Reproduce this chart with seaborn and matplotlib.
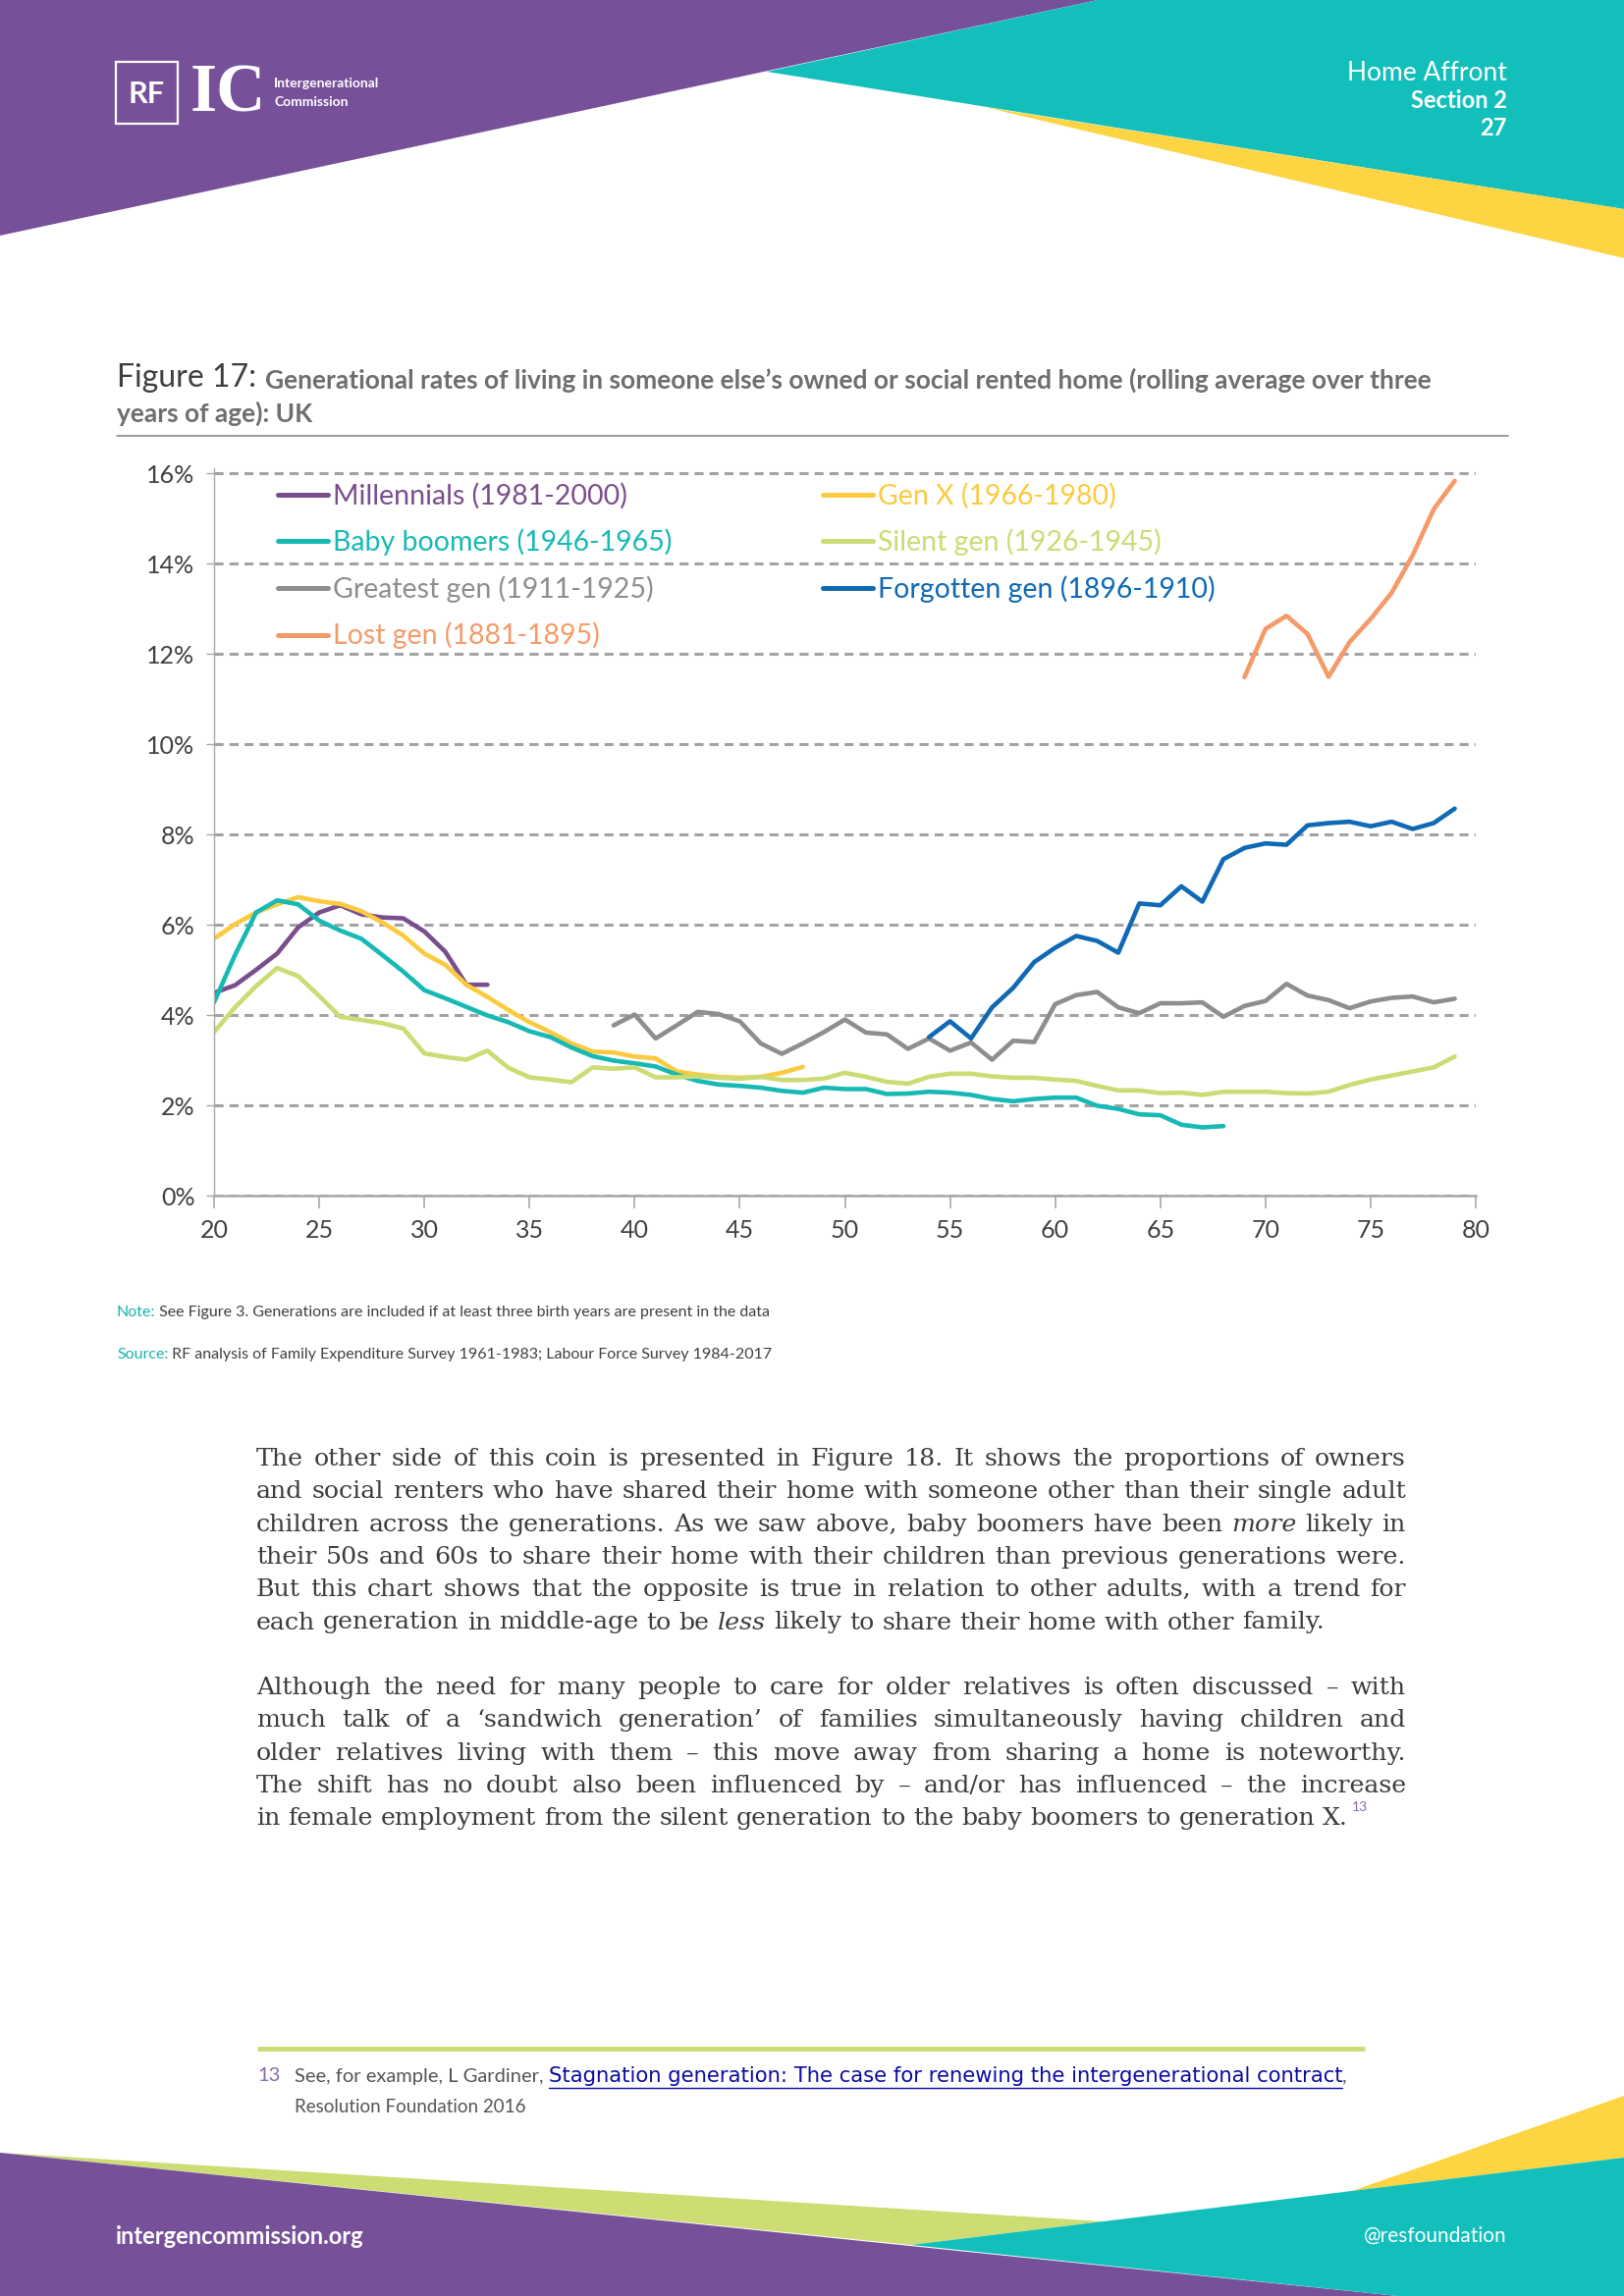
import numpy as np
import pandas as pd
import seaborn as sns
import matplotlib
matplotlib.use("Agg")
import matplotlib.pyplot as plt
from matplotlib.patches import Polygon
from matplotlib.ticker import FuncFormatter

# ---- data (rolling 3yr average, % of people) ----
gens = ["Millennials (1981-2000)", "Gen X (1966-1980)", "Baby boomers (1946-1965)",
        "Silent gen (1926-1945)", "Greatest gen (1911-1925)", "Forgotten gen (1896-1910)",
        "Lost gen (1881-1895)"]
colors = ["#7A4E8C", "#FCCA3E", "#17B9B4", "#CCDB73", "#8E8E8E", "#0F69B4", "#F59A68"]

mill_age = list(range(20, 34))
mill_rate = [4.49, 4.66, 5.00, 5.36, 5.94, 6.27, 6.43, 6.23, 6.16, 6.14, 5.85, 5.40, 4.67, 4.67]

genx_age = list(range(20, 49))
genx_rate = [5.69, 6.01, 6.27, 6.45, 6.61, 6.52, 6.46, 6.30, 6.05, 5.76,
             5.36, 5.11, 4.67, 4.40, 4.11, 3.84, 3.62, 3.37, 3.19, 3.17,
             3.08, 3.04, 2.75, 2.68, 2.63, 2.61, 2.63, 2.72, 2.85]

boom_age = list(range(20, 69))
boom_rate = [4.28, 5.33, 6.27, 6.54, 6.45, 6.09, 5.87, 5.69, 5.33, 4.96,
             4.55, 4.37, 4.18, 3.99, 3.84, 3.64, 3.51, 3.28, 3.09, 2.99,
             2.93, 2.86, 2.68, 2.54, 2.46, 2.43, 2.39, 2.32, 2.28, 2.39,
             2.36, 2.36, 2.25, 2.26, 2.30, 2.28, 2.23, 2.14, 2.09, 2.14,
             2.17, 2.17, 1.99, 1.92, 1.80, 1.78, 1.57, 1.51, 1.54]

silent_age = list(range(20, 80))
silent_rate = [3.62, 4.17, 4.64, 5.04, 4.86, 4.42, 3.96, 3.89, 3.82, 3.70,
               3.15, 3.07, 3.01, 3.21, 2.83, 2.62, 2.57, 2.51, 2.84, 2.81,
               2.84, 2.62, 2.62, 2.64, 2.61, 2.59, 2.63, 2.56, 2.56, 2.59,
               2.72, 2.63, 2.52, 2.48, 2.63, 2.70, 2.70, 2.64, 2.61, 2.61,
               2.57, 2.54, 2.43, 2.33, 2.33, 2.27, 2.28, 2.23, 2.30, 2.30,
               2.30, 2.27, 2.26, 2.30, 2.45, 2.57, 2.66, 2.75, 2.84, 3.08]

great_age = list(range(39, 80))
great_rate = [3.77,
              4.01, 3.48, 3.77, 4.07, 4.02, 3.86, 3.37, 3.14, 3.37, 3.62,
              3.90, 3.61, 3.57, 3.25, 3.48, 3.21, 3.39, 3.01, 3.43, 3.40,
              4.24, 4.44, 4.51, 4.17, 4.04, 4.26, 4.26, 4.28, 3.96, 4.20,
              4.31, 4.69, 4.43, 4.33, 4.15, 4.30, 4.38, 4.41, 4.28, 4.36]

forgot_age = list(range(54, 80))
forgot_rate = [3.51, 3.86, 3.48, 4.17, 4.60, 5.17,
               5.49, 5.75, 5.64, 5.38, 6.47, 6.43, 6.85, 6.51, 7.45, 7.70,
               7.80, 7.77, 8.20, 8.25, 8.28, 8.18, 8.28, 8.12, 8.25, 8.57]

lost_age = list(range(69, 80))
lost_rate = [11.48, 12.55, 12.84, 12.44, 11.49, 12.26, 12.77, 13.35, 14.18, 15.20, 15.83]

x_ticks = [20, 25, 30, 35, 40, 45, 50, 55, 60, 65, 70, 75, 80]
y_ticks = [0, 2, 4, 6, 8, 10, 12, 14, 16]

series = [(mill_age, mill_rate), (genx_age, genx_rate), (boom_age, boom_rate),
          (silent_age, silent_rate), (great_age, great_rate),
          (forgot_age, forgot_rate), (lost_age, lost_rate)]
df = pd.concat([pd.DataFrame({"age": a, "rate": r, "gen": g})
                for g, (a, r) in zip(gens, series)], ignore_index=True)

sns.set_theme(style="white")
plt.rcParams["font.family"] = ["Lato", "DejaVu Sans"]

W, H = 1654, 2339
fig = plt.figure(figsize=(W / 100, H / 100), dpi=100)
fig.patch.set_facecolor("white")

# page layer in pixel coordinates (y down)
page = fig.add_axes([0, 0, 1, 1], zorder=-1)
page.set_xlim(0, W)
page.set_ylim(H, 0)
page.axis("off")

purple, teal, yellow, lime = "#77509A", "#12BFBB", "#FDD441", "#CDDC73"

# header shapes
page.add_patch(Polygon([(0, 0), (1118, 0), (0, 240)], color=purple, lw=0))
page.add_patch(Polygon([(781, 73), (1118, 0), (W, 0), (W, 213)], color=teal, lw=0))
page.add_patch(Polygon([(1002, 109), (W, 213), (W, 263)], color=yellow, lw=0))
# footer shapes
page.add_patch(Polygon([(0, 2193), (1123, 2263), (928, 2287)], color=lime, lw=0))
page.add_patch(Polygon([(0, 2193), (1424, H), (0, H)], color=purple, lw=0))
page.add_patch(Polygon([(1377, 2232), (W, 2135), (W, 2198)], color=yellow, lw=0))
page.add_patch(Polygon([(928, 2287), (W, 2198), (W, H), (1424, H)], color=teal, lw=0))

# logo
page.add_patch(plt.Rectangle((118, 63), 63, 63, fill=False, ec="white", lw=1.6))
page.text(149.5, 96, "RF", color="white", fontsize=22, fontweight="bold",
          ha="center", va="center")
page.text(194, 97, "IC", color="white", fontsize=50, fontweight="bold",
          family="Liberation Serif", ha="left", va="center")
page.text(279, 85, "Intergenerational", color="white", fontsize=10, fontweight="bold", va="center")
page.text(279, 104, "Commission", color="white", fontsize=10, fontweight="bold", va="center")

page.text(1535, 75, "Home Affront", color="white", fontsize=19, ha="right", va="center")
page.text(1535, 103, "Section 2", color="white", fontsize=17, fontweight="bold",
          ha="right", va="center")
page.text(1535, 131, "27", color="white", fontsize=17, fontweight="bold",
          ha="right", va="center")

# figure title
r = fig.canvas.get_renderer()
t1 = page.text(119, 385, "Figure 17:", color="#3F3F3F", fontsize=23, va="center")
x_after = t1.get_window_extent(r).x1 + 9
page.text(x_after, 387, "Generational rates of living in someone else\u2019s owned or social rented home "
          "(rolling average over three", color="#6E6E70", fontsize=19, fontweight="bold", va="center")
page.text(119, 421, "years of age): UK", color="#6E6E70", fontsize=19, fontweight="bold", va="center")
page.plot([119, 1536], [444, 444], color="#8A8A8A", lw=1.2)

# ---- chart ----
y_top = 16.1
ax = fig.add_axes([218 / W, 1 - 1218 / H, (1503 - 218) / W, (1218 - 482 + 0.1 * 46) / H])
ax.set_facecolor("none")
sns.lineplot(data=df, x="age", y="rate", hue="gen", hue_order=gens,
             palette=dict(zip(gens, colors)), linewidth=3.3, estimator=None,
             sort=False, ax=ax)
handles, labels = ax.get_legend_handles_labels()
ax.get_legend().remove()

ax.set_xlim(20, 80)
ax.set_ylim(0, y_top)
ax.set_xticks(x_ticks)
ax.set_yticks(y_ticks)
ax.yaxis.set_major_formatter(FuncFormatter(lambda v, p: f"{v:.0f}%"))
ax.set_xlabel("")
ax.set_ylabel("")
ax.yaxis.grid(True, color="#A3A3A3", lw=2.2, ls=(0, (3, 2)))
ax.set_axisbelow(True)
for s in ["top", "right"]:
    ax.spines[s].set_visible(False)
ax.spines["left"].set_color("#A8A8A8")
ax.spines["left"].set_linewidth(1.0)
ax.spines["bottom"].set_color("#A8A8A8")
ax.spines["bottom"].set_linewidth(1.8)
ax.tick_params(axis="x", length=9, width=1.2, color="#A8A8A8", labelsize=18,
               labelcolor="#404040", pad=8, bottom=True)
ax.tick_params(axis="y", length=6, width=1.0, color="#A8A8A8", labelsize=18,
               labelcolor="#404040", pad=8, left=True)

hmap = dict(zip(labels, handles))
leg_kw = dict(loc="upper left", bbox_transform=fig.transFigure, frameon=False,
              fontsize=20.5, handlelength=1.8, handletextpad=0.15, labelspacing=0.7,
              borderpad=0, borderaxespad=0, labelcolor="linecolor")
col1 = [gens[0], gens[2], gens[4], gens[6]]
col2 = [gens[1], gens[3], gens[5]]
leg1 = ax.legend([hmap[g] for g in col1], col1, bbox_to_anchor=(283 / W, 1 - 492 / H), **leg_kw)
ax.add_artist(leg1)
ax.legend([hmap[g] for g in col2], col2, bbox_to_anchor=(838 / W, 1 - 492 / H), **leg_kw)
for lg in [leg1, ax.get_legend()]:
    for h in lg.legend_handles:
        h.set_linewidth(3.6)

# note and source
for y, head, rest in [(1337, "Note:", " See Figure 3. Generations are included if at least three birth years are present in the data"),
                      (1380, "Source:", " RF analysis of Family Expenditure Survey 1961-1983; Labour Force Survey 1984-2017")]:
    th = page.text(119, y, head, color="#17B3AF", fontsize=11.5, va="center")
    page.annotate(rest, xy=(1, 0.5), xycoords=th, color="#404040", fontsize=11.5, va="center")

# ---- body text ----
BODY_L, BODY_R = 261, 1432
body_col = "#3C3C3C"
body_font = "DejaVu Serif"


def measure(s, size, style="normal"):
    t = page.text(0, 0, s, fontsize=size, family=body_font, style=style)
    w = t.get_window_extent(r).width
    t.remove()
    return w


para1 = ["The other side of this coin is presented in Figure 18. It shows the proportions of owners",
         "and social renters who have shared their home with someone other than their single adult",
         "children across the generations. As we saw above, baby boomers have been *more* likely in",
         "their 50s and 60s to share their home with their children than previous generations were.",
         "But this chart shows that the opposite is true in relation to other adults, with a trend for",
         "each generation in middle-age to be *less* likely to share their home with other family."]
para2 = ["Although the need for many people to care for older relatives is often discussed \u2013 with",
         "much talk of a \u2018sandwich generation\u2019 of families simultaneously having children and",
         "older relatives living with them \u2013 this move away from sharing a home is noteworthy.",
         "The shift has no doubt also been influenced by \u2013 and/or has influenced \u2013 the increase",
         "in female employment from the silent generation to the baby boomers to generation X."]

# size the serif so the unjustified closing line of para 1 is as wide as in the page
body_size = 10 * 1093 / measure(para1[-1].replace("*", ""), 10)
space_w = measure("a a", body_size) - measure("aa", body_size)


def put_line(y, text, justify):
    words = text.split(" ")
    arts = []
    for w in words:
        st = "italic" if w.startswith("*") else "normal"
        arts.append(page.text(0, y, w.strip("*"), fontsize=body_size, family=body_font,
                              style=st, color=body_col, va="baseline"))
    widths = [a.get_window_extent(r).width for a in arts]
    gap = (BODY_R - BODY_L - sum(widths)) / (len(words) - 1) if justify else space_w
    x = BODY_L
    for a, w in zip(arts, widths):
        a.set_x(x)
        x += w + gap
    return x - gap


pitch = 33.3
for i, line in enumerate(para1):
    put_line(1493 + i * pitch, line, i < len(para1) - 1)
for i, line in enumerate(para2):
    xe = put_line(1493 + (i + 7) * pitch, line, i < len(para2) - 1)
page.text(xe + 4, 1493 + 11 * pitch - 14, "13", color="#8B6AA6", fontsize=10, va="baseline")

# footnote
page.plot([262, 1390], [2087, 2087], color=lime, lw=3.5, solid_capstyle="butt")
fn = page.text(262, 2115, "13", color="#8B6AA6", fontsize=14.5, va="center")
t_a = page.text(300, 2115, "See, for example, L Gardiner, ", color="#555555", fontsize=14.5, va="center")
xa = t_a.get_window_extent(r).x1
t_b = page.text(xa, 2115, "Stagnation generation: The case for renewing the intergenerational contract",
                color="#0B0BA0", fontsize=15.2, family="DejaVu Sans", va="center")
bb = t_b.get_window_extent(r)
page.plot([bb.x0, bb.x1], [2127, 2127], color="#0B0BA0", lw=1.0)
page.text(bb.x1, 2115, ",", color="#555555", fontsize=14.5, va="center")
page.text(300, 2147, "Resolution Foundation 2016", color="#555555", fontsize=13.5, va="center")

# footer text
page.text(118, 2278, "intergencommission.org", color="white", fontsize=17, fontweight="bold", va="center")
page.text(1535, 2278, "@resfoundation", color="white", fontsize=15, ha="right", va="center")

fig.savefig("out.png", dpi=100, facecolor="white")
